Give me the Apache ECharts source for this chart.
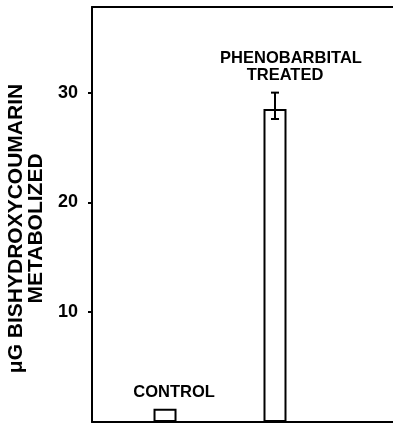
<!DOCTYPE html>
<html>
<head>
<meta charset="utf-8">
<script src="https://cdn.jsdelivr.net/npm/echarts@6/dist/echarts.min.js"></script>
<style>
html,body{margin:0;padding:0;background:#fff;}
#chart{width:393px;height:425px;}
</style>
</head>
<body>
<div id="chart"></div>
<script>
const categories = ['CONTROL', 'PHENOBARBITAL\nTREATED'];
const values = [1.2, 28.5];
const errLow = [null, 27.6];
const errHigh = [null, 30.0];
const yTicks = [10, 20, 30];
const yAxisTitle = 'μG BISHYDROXYCOUMARIN\nMETABOLIZED';

const FONT = '"Liberation Sans", Arial, sans-serif';
const labelDistances = [8, 25];
const labelOffsets = [[9, 0], [16, 0]];

function labelFormatter(text) {
  const lines = text.split('\n');
  return lines.map((l, k) => '{' + (k === 0 ? 'a' : 'b') + '|' + l + '}').join('\n');
}

const barData = values.map((v, i) => ({
  value: [i + 1, v],
  label: {
    show: true,
    position: 'top',
    distance: labelDistances[i],
    offset: labelOffsets[i],
    formatter: labelFormatter(categories[i]),
    color: '#000',
    fontFamily: FONT,
    fontSize: 16.5,
    fontWeight: 'bold',
    lineHeight: 17,
    align: 'center',
    rich: {
      a: {color: '#000', fontFamily: FONT, fontSize: 16.5, fontWeight: 'bold', lineHeight: 17},
      b: {color: '#000', fontFamily: FONT, fontSize: 16.5, fontWeight: 'bold', lineHeight: 17, padding: [0, 12, 0, 0]}
    }
  }
}));

const errData = [];
values.forEach((v, i) => {
  if (errLow[i] != null) errData.push([i + 1, errLow[i], errHigh[i]]);
});

const chart = echarts.init(document.getElementById('chart'), null, {renderer: 'canvas'});
chart.setOption({
  animation: false,
  backgroundColor: '#fff',
  grid: {left: 92, right: 0, top: 7, bottom: 3, containLabel: false, outerBoundsMode: 'none'},
  xAxis: [
    {
      type: 'value', min: 0.336, max: 3.073, position: 'bottom',
      axisLine: {show: true, onZero: false, lineStyle: {color: '#000', width: 2}},
      axisTick: {show: false}, axisLabel: {show: false}, splitLine: {show: false}
    },
    {
      type: 'value', min: 0.336, max: 3.073, position: 'top',
      axisLine: {show: true, onZero: false, lineStyle: {color: '#000', width: 2}},
      axisTick: {show: false}, axisLabel: {show: false}, splitLine: {show: false}
    }
  ],
  yAxis: {
    type: 'value', min: 0, max: 37.8, interval: 10,
    axisLine: {show: true, onZero: false, lineStyle: {color: '#000', width: 2}},
    axisTick: {show: true, length: 4, inside: false, customValues: yTicks, lineStyle: {color: '#000', width: 2}},
    axisLabel: {
      show: true, customValues: yTicks, margin: 14,
      color: '#000', fontFamily: FONT, fontSize: 18, fontWeight: 'bold'
    },
    splitLine: {show: false},
    name: yAxisTitle,
    nameLocation: 'middle',
    nameRotate: 90,
    nameGap: 44,
    nameTextStyle: {
      color: '#000', fontFamily: FONT, fontSize: 21, fontWeight: 'bold',
      lineHeight: 20, align: 'center', padding: [0, 28, 0, 0]
    }
  },
  series: [
    {
      type: 'bar',
      xAxisIndex: 0,
      barWidth: 23,
      data: barData,
      itemStyle: {color: '#fff', borderColor: '#000', borderWidth: 2}
    },
    {
      type: 'custom',
      xAxisIndex: 0,
      data: errData,
      z: 5,
      renderItem: function (params, api) {
        const x = api.value(0);
        const lo = api.coord([x, api.value(1)]);
        const hi = api.coord([x, api.value(2)]);
        const hw = 4;
        const st = {stroke: '#000', lineWidth: 2};
        return {
          type: 'group',
          children: [
            {type: 'line', shape: {x1: lo[0], y1: lo[1], x2: hi[0], y2: hi[1]}, style: st},
            {type: 'line', shape: {x1: lo[0] - hw, y1: lo[1], x2: lo[0] + hw, y2: lo[1]}, style: st},
            {type: 'line', shape: {x1: hi[0] - hw, y1: hi[1], x2: hi[0] + hw, y2: hi[1]}, style: st}
          ]
        };
      }
    }
  ]
});
</script>
</body>
</html>
